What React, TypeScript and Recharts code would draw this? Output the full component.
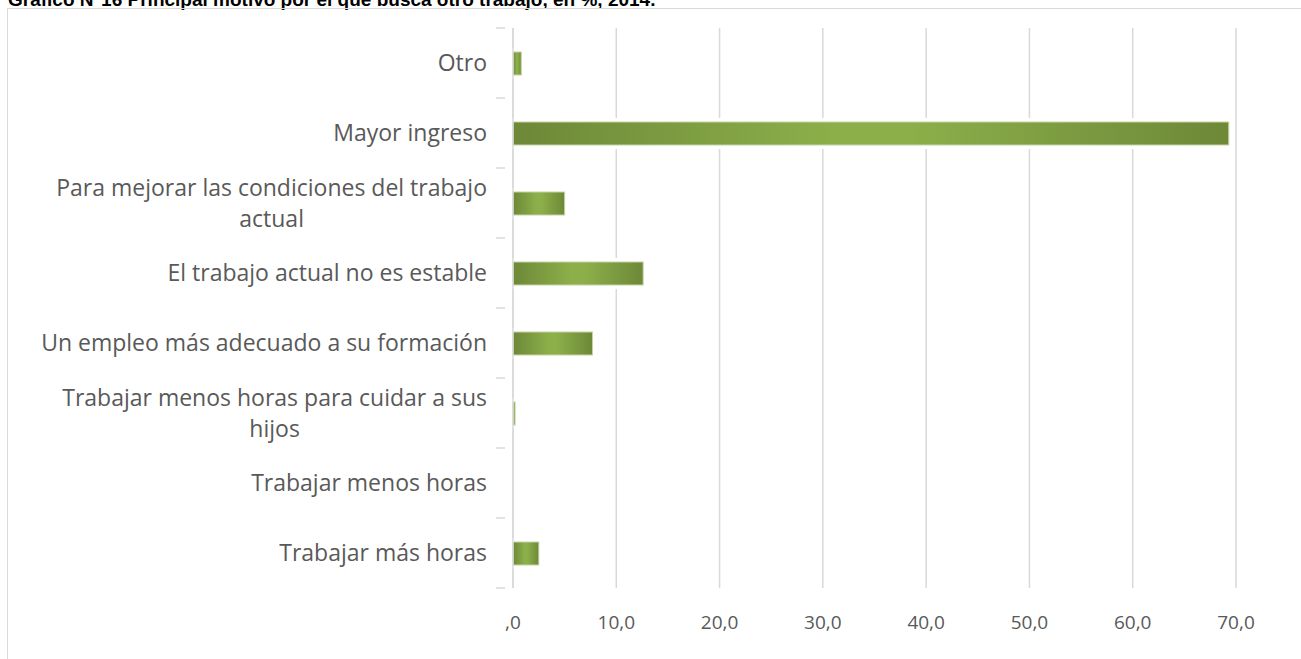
import { BarChart, Bar, XAxis, YAxis, CartesianGrid } from 'recharts'

// categories from top to bottom, as in the reference
const categories = [
  'Otro',
  'Mayor ingreso',
  'Para mejorar las condiciones del trabajo actual',
  'El trabajo actual no es estable',
  'Un empleo más adecuado a su formación',
  'Trabajar menos horas para cuidar a sus hijos',
  'Trabajar menos horas',
  'Trabajar más horas',
]
const values = [0.8, 69.3, 5.0, 12.6, 7.7, 0.2, 0, 2.5]
const xTicks = [0, 10, 20, 30, 40, 50, 60, 70]

// manual line breaks for the long labels
const labelLines: Record<string, string[]> = {
  'Para mejorar las condiciones del trabajo actual': ['Para mejorar las condiciones del trabajo', 'actual'],
  'Trabajar menos horas para cuidar a sus hijos': ['Trabajar menos horas para cuidar a sus', 'hijos'],
}

const title = 'Gráfico N°16 Principal motivo por el que busca otro trabajo, en %, 2014.'

const data = categories.map((name, i) => ({ name, value: values[i] }))

const W = 1301
const H = 659
const TOP = 28
const BOTTOM = 71
const BAND = (H - TOP - BOTTOM) / categories.length
const LABEL_FONT = '23px "Open Sans"'
const GRID = '#d9d9d9'
const TEXT = '#595959'

let ctx: CanvasRenderingContext2D | null = null
function measure(s: string) {
  if (!ctx) ctx = document.createElement('canvas').getContext('2d')
  if (!ctx) return s.length * 11
  ctx.font = LABEL_FONT
  return ctx.measureText(s).width
}

// y labels: right aligned block, lines centered inside it, plus boundary ticks
function CategoryTick({ x, y, payload, index }: any) {
  const lines = labelLines[payload.value] || [payload.value]
  const right = x - 18
  const w = Math.max(...lines.map(measure))
  const multi = lines.length > 1
  const tx = multi ? right - w / 2 : right
  const lh = 31
  const y0 = y - ((lines.length - 1) * lh) / 2
  return (
    <g>
      <text
        x={tx}
        y={y0}
        textAnchor={multi ? 'middle' : 'end'}
        fill={TEXT}
        style={{ font: LABEL_FONT }}
      >
        {lines.map((l: string, i: number) => (
          <tspan key={i} x={tx} dy={i === 0 ? '0.36em' : lh}>
            {l}
          </tspan>
        ))}
      </text>
      <line x1={x - 9} x2={x} y1={y + BAND / 2} y2={y + BAND / 2} stroke={GRID} strokeWidth={1.5} />
      {index === 0 && (
        <line x1={x - 9} x2={x} y1={y - BAND / 2} y2={y - BAND / 2} stroke={GRID} strokeWidth={1.5} />
      )}
    </g>
  )
}

function ValueTick({ x, y, payload }: any) {
  const v = payload.value
  const label = v === 0 ? ',0' : v.toFixed(1).replace('.', ',')
  return (
    <text x={x} y={y + 33} textAnchor="middle" fill={TEXT} fontFamily="Open Sans" fontSize={19}>
      {label}
    </text>
  )
}

// gradient bar with a thin white halo that cuts the grid lines
function GlowBar({ x, y, width, height }: any) {
  if (!width || width <= 0) return null
  return (
    <g>
      <rect x={x - 3} y={y - 4} width={width + 7} height={height + 8} fill="#ffffff" />
      <rect x={x} y={y} width={width} height={height} fill="url(#barGrad)" stroke="#c3d4a2" strokeWidth={1} />
    </g>
  )
}

export default function App() {
  return (
    <div style={{ position: 'absolute', left: 0, top: 0, width: W, height: H, overflow: 'hidden', background: '#fff' }}>
      <div
        style={{
          position: 'absolute',
          left: 8,
          top: -10,
          whiteSpace: 'nowrap',
          font: 'bold 19px "Liberation Sans", Arial, sans-serif',
          lineHeight: '20px',
          color: '#000',
        }}
      >
        {title}
      </div>
      <div
        style={{
          position: 'absolute',
          left: 7,
          top: 8,
          width: W + 20,
          height: H + 20,
          border: `1px solid ${GRID}`,
          boxSizing: 'border-box',
          background: 'transparent',
        }}
      />
      <div style={{ position: 'absolute', left: 0, top: 0 }}>
        <BarChart
          width={W}
          height={H}
          data={data}
          layout="vertical"
          margin={{ top: TOP, right: W - 1236, bottom: 0, left: 0 }}
          barSize={23}
        >
          <defs>
            <linearGradient id="barGrad" x1="0" y1="0" x2="1" y2="0">
              <stop offset="0%" stopColor="#6d8838" />
              <stop offset="45%" stopColor="#8caf4a" />
              <stop offset="55%" stopColor="#8caf4a" />
              <stop offset="100%" stopColor="#6d8838" />
            </linearGradient>
          </defs>
          <CartesianGrid horizontal={false} stroke={GRID} strokeWidth={1.5} />
          <XAxis
            type="number"
            domain={[0, 70]}
            ticks={xTicks}
            axisLine={false}
            tickLine={false}
            height={BOTTOM}
            tick={<ValueTick />}
            interval={0}
          />
          <YAxis
            type="category"
            dataKey="name"
            width={513}
            axisLine={{ stroke: GRID, strokeWidth: 1.5 }}
            tickLine={false}
            tick={<CategoryTick />}
            interval={0}
          />
          <Bar dataKey="value" shape={<GlowBar />} isAnimationActive={false} />
        </BarChart>
      </div>
    </div>
  )
}
